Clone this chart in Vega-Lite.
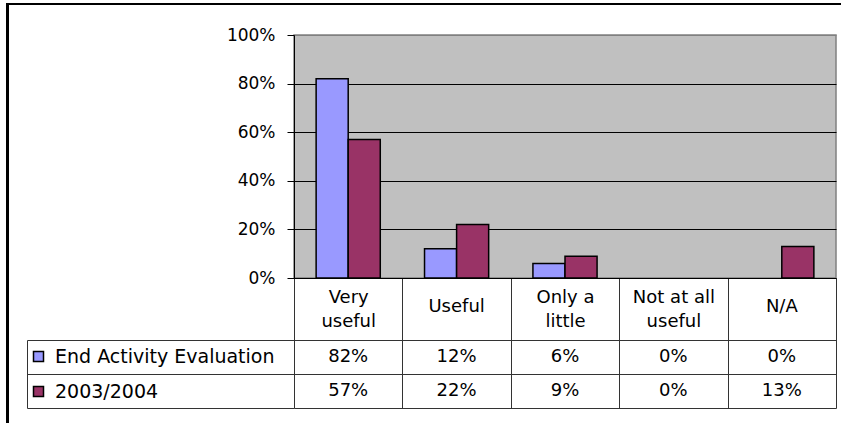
{
  "$schema": "https://vega.github.io/schema/vega-lite/v6.json",
  "width": 542,
  "height": 243,
  "autosize": {"type": "none"},
  "padding": {"left": 294, "top": 35, "right": 5, "bottom": 145},
  "background": "white",
  "config": {
    "font": "DejaVu Sans",
    "view": {"fill": "#C0C0C0", "stroke": "#808080", "strokeWidth": 1.5}
  },
  "data": {
    "values": [
      {"category": "Very useful", "series": "End Activity Evaluation", "value": 0.82},
      {"category": "Useful", "series": "End Activity Evaluation", "value": 0.12},
      {"category": "Only a little", "series": "End Activity Evaluation", "value": 0.06},
      {"category": "Not at all useful", "series": "End Activity Evaluation", "value": 0.0},
      {"category": "N/A", "series": "End Activity Evaluation", "value": 0.0},
      {"category": "Very useful", "series": "2003/2004", "value": 0.57},
      {"category": "Useful", "series": "2003/2004", "value": 0.22},
      {"category": "Only a little", "series": "2003/2004", "value": 0.09},
      {"category": "Not at all useful", "series": "2003/2004", "value": 0.0},
      {"category": "N/A", "series": "2003/2004", "value": 0.13}
    ]
  },
  "layer": [
    {
      "mark": {"type": "bar", "stroke": "black", "strokeWidth": 1.5},
      "encoding": {
        "x": {
          "field": "category",
          "type": "nominal",
          "sort": ["Very useful", "Useful", "Only a little", "Not at all useful", "N/A"],
          "scale": {"type": "band", "paddingInner": 0, "paddingOuter": 0},
          "axis": {
            "orient": "bottom",
            "title": null,
            "domain": true,
            "domainColor": "black",
            "domainWidth": 1,
            "ticks": true,
            "tickBand": "extent",
            "tickSize": 130,
            "tickColor": "#333333",
            "tickWidth": 1,
            "grid": false,
            "labelAngle": 0,
            "labelFontSize": 18,
            "labelColor": "black",
            "labelBaseline": "middle",
            "labelLineHeight": 24,
            "labelPadding": -110.5,
            "labelOverlap": false,
            "labelExpr": "length(datum.label) > 7 ? [slice(datum.label, 0, lastindexof(datum.label, ' ')), slice(datum.label, lastindexof(datum.label, ' ') + 1)] : ''"
          }
        },
        "xOffset": {
          "field": "series",
          "type": "nominal",
          "sort": ["End Activity Evaluation", "2003/2004"],
          "scale": {"paddingInner": 0, "paddingOuter": 0.69}
        },
        "y": {
          "field": "value",
          "type": "quantitative",
          "scale": {"domain": [0, 1], "nice": false},
          "axis": {
            "orient": "left",
            "title": null,
            "values": [0, 0.2, 0.4, 0.6, 0.8, 1],
            "format": ".0%",
            "domainColor": "black",
            "tickColor": "black",
            "tickSize": 7,
            "labelPadding": 12,
            "labelFontSize": 17,
            "labelColor": "black",
            "grid": true,
            "gridColor": {"condition": {"test": "datum.value === 1", "value": "#808080"}, "value": "black"},
            "gridWidth": 1
          }
        },
        "strokeOpacity": {"condition": {"test": "datum.value === 0", "value": 0}, "value": 1},
        "color": {
          "field": "series",
          "type": "nominal",
          "sort": ["End Activity Evaluation", "2003/2004"],
          "scale": {"range": ["#9999FF", "#993366"]},
          "legend": {
            "orient": "none",
            "legendX": -265,
            "legendY": 312,
            "title": null,
            "padding": 0,
            "symbolType": "square",
            "symbolSize": 100,
            "symbolStrokeColor": "black",
            "symbolStrokeWidth": 1.5,
            "labelFontSize": 19,
            "labelColor": "black",
            "labelOffset": 7,
            "labelLimit": 400,
            "rowPadding": 15
          }
        }
      }
    },
    {
      "mark": {"type": "text", "fontSize": 18, "fill": "black", "align": "center", "baseline": "middle"},
      "encoding": {
        "x": {
          "field": "category",
          "type": "nominal",
          "sort": ["Very useful", "Useful", "Only a little", "Not at all useful", "N/A"],
          "scale": {"type": "band", "paddingInner": 0, "paddingOuter": 0},
          "axis": {
            "orient": "bottom",
            "title": null,
            "domain": false,
            "ticks": false,
            "grid": false,
            "labelAngle": 0,
            "labelFontSize": 18,
            "labelColor": "black",
            "labelBaseline": "middle",
            "labelPadding": 28.5,
            "labelOverlap": false,
            "labelExpr": "length(datum.label) > 7 ? '' : datum.label"
          }
        },
        "y": {
          "field": "series",
          "type": "nominal",
          "sort": ["End Activity Evaluation", "2003/2004"],
          "scale": {"type": "band", "paddingInner": 0, "paddingOuter": 0, "range": [305, 373]},
          "axis": {
            "orient": "left",
            "offset": 267,
            "title": null,
            "labels": false,
            "domain": true,
            "domainColor": "#333333",
            "ticks": true,
            "tickBand": "extent",
            "tickSize": -267,
            "tickColor": "#333333",
            "grid": true,
            "gridColor": "#333333",
            "gridWidth": 1
          }
        },
        "text": {"field": "value", "type": "quantitative", "format": ".0%"}
      }
    },
    {
      "mark": {"type": "rect", "fillOpacity": 0, "stroke": "black", "strokeWidth": 2},
      "encoding": {
        "x": {"datum": 0, "type": "quantitative", "scale": {"domain": [0, 1], "range": [-286.5, 560], "nice": false, "zero": false}, "axis": null},
        "x2": {"datum": 1},
        "y": {"datum": 0, "type": "quantitative", "scale": {"domain": [0, 1], "range": [-31, 400], "nice": false, "zero": false}, "axis": null},
        "y2": {"datum": 1}
      }
    }
  ],
  "resolve": {
    "scale": {"x": "independent", "y": "independent"},
    "axis": {"x": "independent", "y": "independent"}
  }
}
